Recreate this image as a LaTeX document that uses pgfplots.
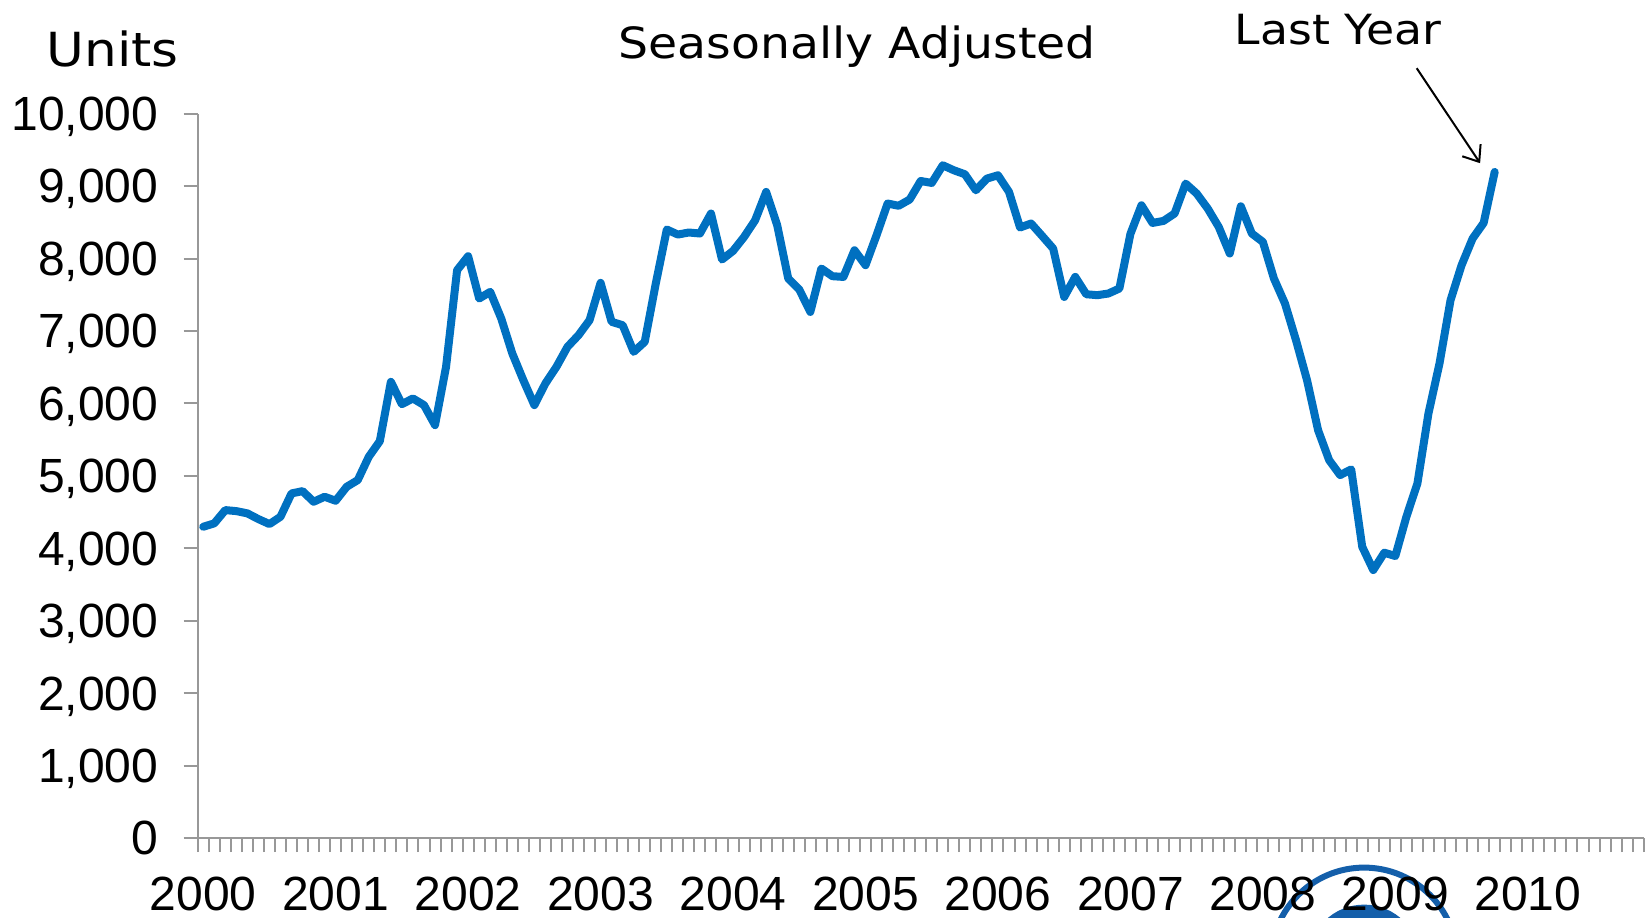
\documentclass[border=0pt]{standalone}
\usepackage{fontspec}
\setmainfont{Liberation Sans}
\newfontfamily\titlefont[FakeStretch=1.1]{DejaVu Sans}
\usepackage{pgfplots}
\pgfplotsset{compat=1.18}
\usepackage{pgfplotstable}
\usetikzlibrary{arrows.meta}

\definecolor{lineblue}{RGB}{0,112,192}
\definecolor{axisgray}{RGB}{152,152,152}
\definecolor{logoblue}{RGB}{20,95,170}

% monthly units, seasonally adjusted; month 0 = Jan 2000
\pgfplotstableread{
m units
0 4298
1 4345
2 4528
3 4514
4 4483
5 4404
6 4335
7 4436
8 4758
9 4790
10 4643
11 4712
12 4657
13 4850
14 4942
15 5264
16 5480
17 6298
18 5990
19 6069
20 5977
21 5701
22 6505
23 7839
24 8032
25 7448
26 7540
27 7172
28 6690
29 6321
30 5977
31 6276
32 6505
33 6781
34 6942
35 7149
36 7664
37 7126
38 7080
39 6712
40 6850
41 7655
42 8400
43 8331
44 8359
45 8345
46 8621
47 7986
48 8105
49 8298
50 8528
51 8919
52 8459
53 7724
54 7572
55 7263
56 7862
57 7756
58 7746
59 8114
60 7908
61 8321
62 8759
63 8728
64 8814
65 9070
66 9043
67 9287
68 9218
69 9163
70 8942
71 9103
72 9149
73 8919
74 8428
75 8483
76 8312
77 8138
78 7470
79 7746
80 7507
81 7494
82 7517
83 7586
84 8340
85 8735
86 8491
87 8519
88 8621
89 9034
90 8897
91 8690
92 8436
93 8069
94 8721
95 8345
96 8229
97 7724
98 7379
99 6873
100 6321
101 5631
102 5218
103 5011
104 5090
105 4022
106 3701
107 3940
108 3894
109 4436
110 4897
111 5862
112 6552
113 7425
114 7908
115 8276
116 8491
117 9195
}\salesdata

\begin{document}
\begin{tikzpicture}
  % logo, cut by the lower edge
  \draw[logoblue, line width=3pt] (583.2pt,-61.2pt) circle (46.5pt);
  \fill[logoblue] (583.2pt,-61.2pt) circle (28pt);

  \begin{axis}[
      at={(0pt,0pt)}, anchor=south west,
      scale only axis, width=723pt, height=362.3pt,
      xmin=-0.5, xmax=130.5, ymin=0, ymax=10000,
      axis x line=bottom, axis y line=left,
      axis line style={-, draw=axisgray, line width=1pt},
      tick style={draw=axisgray, line width=1pt},
      tick align=outside, major tick length=7pt,
      xtick={-0.5,0.5,...,130.5}, xticklabels={},
      extra x ticks={0,12,...,120},
      extra x tick labels={2000,2001,2002,2003,2004,2005,2006,2007,2008,2009,2010},
      extra x tick style={major tick length=0pt,
        xticklabel style={anchor=north, inner sep=0pt, yshift=-19pt}},
      ytick={0,1000,...,10000},
      scaled y ticks=false,
      yticklabel style={anchor=east, inner sep=0pt, text depth=0pt, xshift=-12.5pt},
      /pgf/number format/.cd, 1000 sep={,}, assume math mode=true,
      /pgfplots/.cd,
      ticklabel style={font=\fontsize{24}{28}\selectfont},
      clip=false,
    ]
    \addplot[lineblue, line width=4pt, line join=round, line cap=round]
      table[x=m, y=units] {\salesdata};
  \end{axis}

  \node[font=\titlefont\fontsize{23.5}{28}\selectfont, anchor=base] at (-42.6pt,386pt) {Units};
  \node[font=\titlefont\fontsize{21.5}{26}\selectfont, anchor=base] at (329.7pt,389.7pt) {Seasonally Adjusted};
  \node[font=\titlefont\fontsize{20.8}{25}\selectfont, anchor=base] at (570.2pt,397pt) {Last Year};
  \draw[line width=1pt, -{Straight Barb[length=7pt,width=11pt]}] (609.5pt,385pt) -- (641.2pt,337.5pt);

  \pgfresetboundingbox
  \path[use as bounding box] (-98.85pt,-39.4pt) rectangle (725.65pt,419.1pt);
\end{tikzpicture}
\end{document}
